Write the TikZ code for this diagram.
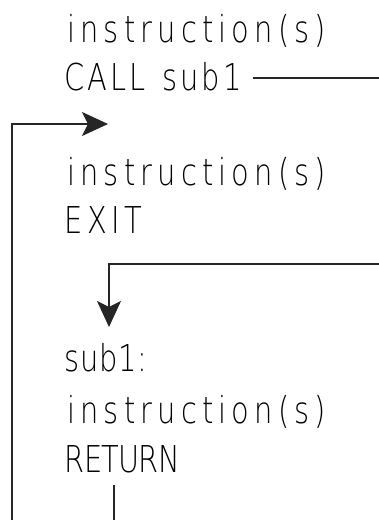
\documentclass[tikz,border=0pt]{standalone}
\usepackage{fontspec}
\usetikzlibrary{arrows.meta}
% thin, narrow sans for the listing text
\IfFontExistsTF{DejaVuSans-ExtraLight.ttf}
  {\newfontfamily\plotfont{DejaVuSans-ExtraLight.ttf}[FakeStretch=0.78]}
  {\newfontfamily\plotfont{DejaVu Sans}[FakeStretch=0.78]}
\tikzset{
  code/.style={anchor=base west, inner sep=0pt,
    font=\plotfont\fontsize{37}{37}\selectfont, text=black},
  wire/.style={line width=1.1pt, draw=black!85},
  tip/.style={-{Stealth[length=26pt,width=24pt,inset=6pt]}},
}
\begin{document}
\begin{tikzpicture}[x=1pt,y=-1pt]
\useasboundingbox (0,0) rectangle (379,520);
% main program
\node[code] (ins1) at (67,42)  {\addfontfeatures{LetterSpace=14}instruction(s)};
\node[code] (call) at (64.5,90) {\addfontfeatures{LetterSpace=8}CALL\hspace{5pt} sub1};
\node[code] (ins2) at (67,185) {\addfontfeatures{LetterSpace=14}instruction(s)};
\node[code] (exit) at (64.5,233) {\addfontfeatures{LetterSpace=12}EXIT};
% subroutine
\node[code] (sub)  at (64.5,371) {\addfontfeatures{LetterSpace=2}sub1:};
\node[code] (ins3) at (67,423) {\addfontfeatures{LetterSpace=14}instruction(s)};
\node[code] (ret)  at (64.5,472) {\addfontfeatures{LetterSpace=-2}RETURN};
% connector ends
\coordinate (callout) at (253,78);
\coordinate (callend) at (379,78);
\coordinate (back)    at (12,520);
\coordinate (resume)  at (108,124);
\coordinate (enter)   at (379,264);
\coordinate (entry)   at (109,327);
\coordinate (retout)  at (114,485);
\coordinate (retend)  at (114,520);
% call goes off to the right
\draw[wire] (callout) -- (callend);
% return path comes back in from below and resumes after the call
\draw[wire,tip] (back) |- (resume);
% jump into the subroutine
\draw[wire,tip] (enter) -| (entry);
% leaving the subroutine
\draw[wire] (retout) -- (retend);
\end{tikzpicture}
\end{document}
